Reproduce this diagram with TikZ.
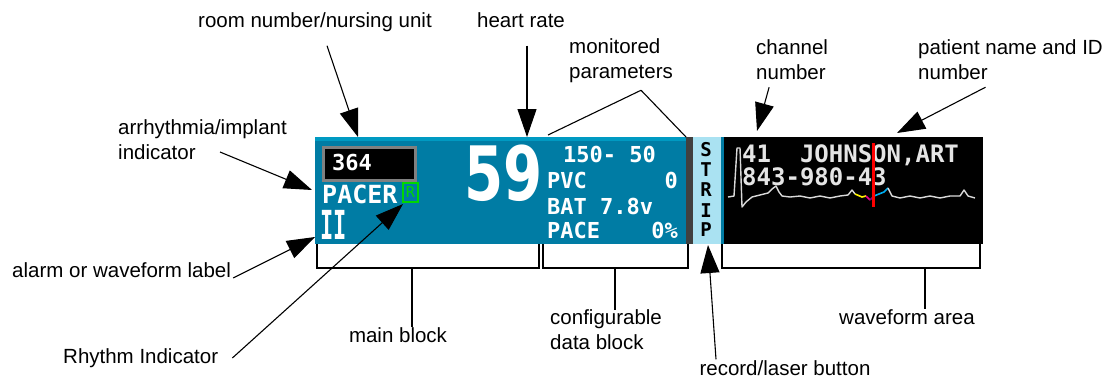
\documentclass[tikz,border=0pt]{standalone}
\usepackage{fontspec}
\setmainfont{Liberation Sans}
\newfontfamily\scrfont{DejaVu Sans Mono}
\newfontfamily\ratefont{DejaVu Sans}
\usetikzlibrary{calc, positioning}
\usetikzlibrary{arrows.meta}

\definecolor{screenteal}{RGB}{0,124,164}
\definecolor{screenedge}{RGB}{0,154,194}
\definecolor{stripblue}{RGB}{170,226,242}
\definecolor{framegray}{RGB}{128,128,128}
\definecolor{rhythmgreen}{RGB}{0,215,0}

\tikzset{
  lbl/.style={font=\fontsize{20.5}{25}\selectfont, inner sep=0pt, align=left},
  pointer/.style={line width=1.1pt, -{Triangle[length=28pt,width=19pt]}},
  leader/.style={line width=1.1pt},
  brace/.style={line width=2.6pt},
  scr/.style={font=\scrfont\bfseries\fontsize{22}{22}\selectfont, text=white, inner sep=0pt},
  stripletter/.style={font=\scrfont\bfseries\fontsize{19}{19}\selectfont, inner sep=0pt},
}

\begin{document}
\begin{tikzpicture}[x=1pt,y=-1pt]
\useasboundingbox (0,0) rectangle (1105,381);
% screen panels
\fill[screenteal] (315,137) rectangle (688,244);
\fill[screenedge] (315,137) rectangle (688,141);
\fill[black!75] (686,137) rectangle (693,244);
\fill[stripblue] (693,137) rectangle (721,244);
\fill[screenteal] (721,137) rectangle (724,244);
\fill[black] (724,137) rectangle (983,244);

% main block
\draw[framegray, line width=3pt, fill=black] (323.5,147.5) rectangle (415.5,180.5);
\node[scr, anchor=base west] (room) at (332,170) {364};
\node[scr, font=\scrfont\bfseries\fontsize{25}{25}\selectfont, anchor=base west] (pacer) at (322,203) {PACER};
\node[draw=rhythmgreen, line width=1.2pt, text=rhythmgreen, font=\scrfont\fontsize{15}{15}\selectfont,
  minimum width=15pt, minimum height=19pt, inner sep=0pt] (rbox) at (410.5,192.5) {R};
\node[scr, font=\scrfont\bfseries\fontsize{40}{40}\selectfont, anchor=base west] (lead) at (320,239) {\scalebox{0.55}[1]{II}};
\node[scr, font=\ratefont\bfseries\fontsize{75}{75}\selectfont, anchor=base west] (rate) at (464,200) {\scalebox{0.75}[1]{59}};

% configurable data block
\node[scr, anchor=base west] (limits) at (563,162) {150- 50};
\node[scr, anchor=base west] (pvc) at (547,188) {PVC};
\node[scr, anchor=base east] (pvcval) at (678,188) {0};
\node[scr, anchor=base west] (bat) at (547,214) {BAT 7.8v};
\node[scr, anchor=base west] (pace) at (547,238) {PACE};
\node[scr, anchor=base east] (paceval) at (678,238) {0\%};

% record button
\foreach \ch/\yy in {S/150,T/170,R/190,I/211,P/230}
  \node[stripletter] (strip\ch) at (706,\yy) {\ch};

% waveform area
\node[scr, font=\scrfont\bfseries\fontsize{24}{24}\selectfont, text=white!90!black, anchor=base west] (ptname) at (742,162) {41\ \ JOHNSON,ART};
\node[scr, font=\scrfont\bfseries\fontsize{24}{24}\selectfont, text=white!90!black, anchor=base west] (ptid) at (742,185) {843-980-43};
\draw[white!85!black, line width=1.4pt, line join=round]
  plot coordinates {(728,197) (734,196) (737,148) (740,148) (742,207) (746,202) (752,197)
    (760,195) (768,193) (772,189) (776,186) (779,192) (782,196) (790,197) (800,196) (810,198)
    (820,196) (830,198) (840,196) (848,195) (852,190) (855,194)};
\draw[yellow, line width=1.6pt] (855,194) -- (862,197) -- (866,196);
\draw[magenta, line width=1.6pt] (866,196) -- (870,200);
\draw[violet, line width=1.6pt] (870,200) -- (874,196);
\draw[cyan, line width=1.6pt] (874,196) -- (884,192) -- (888,188);
\draw[white!85!black, line width=1.4pt, line join=round]
  plot coordinates {(888,188) (892,196) (900,198) (910,196) (920,198) (930,196) (940,198)
    (950,196) (960,196) (964,190) (968,196) (975,198)};
\draw[red, line width=3pt] (873,143) -- (873,207);

% brackets
\draw[brace] (317,244) -- (317,268) -- (539,268) -- (539,244);
\draw[brace] (543,244) -- (543,268) -- (688,268) -- (688,244);
\draw[brace] (722,244) -- (722,268) -- (980,268) -- (980,244);
\coordinate (maintop) at (412,268);
\coordinate (conftop) at (615,268);
\coordinate (wavetop) at (925,268);

% targets
\coordinate (roomtip) at (358,137);
\coordinate (hrtip) at (527,137);
\coordinate (monleft) at (548,135);
\coordinate (monright) at (686,137);
\coordinate (chantip) at (757,131);
\coordinate (pattip) at (897,133);
\coordinate (arrtip) at (312,190);
\coordinate (alarmtip) at (315,237);
\coordinate (rhythmtip) at (403,204);
\coordinate (rectip) at (708,245);

% labels
\node[lbl] (roomlbl) at (315,22) {room number/nursing unit};
\node[lbl] (hrlbl) at (521,20) {heart rate};
\node[lbl, anchor=west] (monlbl) at (569,61) {monitored\\parameters};
\node[lbl, anchor=west] (chanlbl) at (756,60) {channel\\number};
\node[lbl, anchor=west] (patlbl) at (918,60) {patient name and ID\\number};
\node[lbl, anchor=west] (arrlbl) at (118,140) {arrhythmia/implant\\indicator};
\node[lbl, anchor=west] (alarmlbl) at (12,270) {alarm or waveform label};
\node[lbl, anchor=west] (rhythmlbl) at (63,358) {Rhythm Indicator};
\node[lbl] (mainlbl) at (398,335) {main block};
\node[lbl, anchor=west] (conflbl) at (550,330) {configurable\\data block};
\node[lbl] (reclbl) at (785,368) {record/laser button};
\node[lbl] (wavelbl) at (907,317) {waveform area};

% connectors
\draw[pointer] ($(roomlbl.south)+(12,14)$) -- (roomtip);
\draw[pointer] ($(hrlbl.south)+(6,18)$) -- (hrtip);
\draw[leader] ($(monlbl.south)+(20,7)$) -- (monleft);
\draw[leader] ($(monlbl.south)+(20,7)$) -- (monright);
\draw[pointer] ($(chanlbl.south)+(-23,7)$) -- (chantip);
\draw[pointer] ($(patlbl.south)+(-25,7)$) -- (pattip);
\draw[pointer] ($(arrlbl.west)+(102,12)$) -- (arrtip);
\draw[pointer] ($(alarmlbl.east)+(2,8)$) -- (alarmtip);
\draw[pointer] ($(rhythmlbl.east)+(14,0)$) -- (rhythmtip);
\draw[pointer] ($(reclbl.north)+(-69,-1)$) -- (rectip);
\draw[brace] (maintop) -- (maintop |- mainlbl.north);
\draw[brace] (conftop) -- (conftop |- conflbl.north);
\draw[brace] (wavetop) -- (wavetop |- wavelbl.north);
\end{tikzpicture}
\end{document}
